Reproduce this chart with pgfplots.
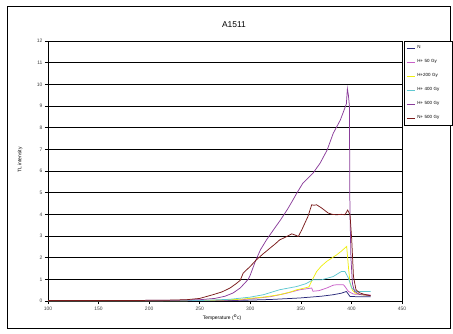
\documentclass[border=0pt]{standalone}
\usepackage{pgfplots}
\pgfplotsset{compat=1.18}
\usepackage{fontspec}
\setmainfont{Liberation Sans}
\definecolor{cN}{HTML}{2A2A7A}
\definecolor{cH50}{HTML}{C860C8}
\definecolor{cH200}{HTML}{EEEE10}
\definecolor{cH400}{HTML}{60C8D0}
\definecolor{cH500}{HTML}{8A3C9A}
\definecolor{cN500}{HTML}{7A1A1A}
\begin{document}
\begin{tikzpicture}[x=1bp,y=1bp]
\path (-48,-32) rectangle (405,301);
\draw[black, line width=0.8pt] (-41,-27) rectangle (402,295);
\begin{axis}[
  at={(0,0)}, anchor=south west,
  scale only axis, width=354bp, height=260bp,
  xmin=100, xmax=450, ymin=0, ymax=12,
  xtick={100,150,...,450}, ytick={0,1,...,12},
  ymajorgrids, major grid style={black, line width=0.7pt},
  axis line style={black, line width=0.5pt},
  tick style={black, line width=0.5pt},
  tick align=outside, major tick length=3bp,
  xtick pos=bottom, ytick pos=left,
  tick label style={font=\fontsize{5}{6}\selectfont, text=black!75},
  /pgf/number format/assume math mode=true,
  /pgf/number format/1000 sep={},
  xticklabel style={yshift=1bp},
  yticklabel style={xshift=1bp},
  legend style={at={(1.005,1)}, anchor=north west, draw=black, line width=0.5pt,
    font=\fontsize{4.5}{5}\selectfont, row sep=5.4bp, inner sep=2.5bp,
    legend cell align=left, text width=30bp},
  legend image code/.code={\draw[#1, line width=0.8pt] (0cm,0cm) -- (0.28cm,0cm);},
  every axis plot/.append style={line width=0.75pt},
]
\addplot[cN] coordinates {(100,0.01)(250,0.01)(290,0.03)(320,0.07)(349,0.14)(370,0.22)(382,0.29)(390,0.36)(395,0.44)(398.6,0.21)(405,0.2)(419,0.2)};
\addlegendentry{N}
\addplot[cH50] coordinates {(100,0.01)(250,0.02)(290,0.05)(320,0.2)(335,0.35)(349,0.52)(355,0.56)(360.7,0.6)(362,0.45)(368,0.48)(375.6,0.6)(382,0.73)(385.4,0.75)(392,0.75)(393.6,0.67)(397,0.44)(402,0.32)(410,0.3)(419,0.28)};
\addlegendentry{H+ 50 Gy}
\addplot[cH200] coordinates {(100,0.01)(200,0.01)(250,0.02)(280,0.06)(290,0.08)(313,0.18)(329,0.29)(340,0.42)(346,0.52)(352,0.58)(358,0.65)(361,0.95)(365.6,1.36)(370,1.6)(375.6,1.83)(385.4,2.13)(390,2.3)(395.3,2.52)(397,1.59)(398.6,0.83)(401,0.5)(403.5,0.37)(410,0.29)(419,0.25)};
\addlegendentry{H+200 Gy}
\addplot[cH400] coordinates {(100,0.01)(200,0.01)(250,0.02)(280,0.08)(300,0.18)(313,0.29)(329,0.52)(346,0.67)(355,0.8)(362,0.98)(370.6,0.98)(382,1.13)(390,1.36)(393.6,1.36)(397,1.06)(400.3,0.6)(405,0.44)(416.7,0.44)(419,0.44)};
\addlegendentry{H+ 400 Gy}
\addplot[cH500] coordinates {(100,0.02)(150,0.02)(200,0.03)(230,0.04)(250,0.06)(265,0.12)(275,0.22)(283,0.37)(290,0.6)(295,0.85)(298,1.0)(300,1.2)(305,1.83)(310,2.36)(316,2.82)(323,3.29)(330,3.75)(337,4.25)(342,4.65)(346,4.98)(352,5.44)(362,5.9)(369,6.36)(376,6.97)(382,7.74)(389,8.35)(394,8.97)(395,9.1)(396,9.8)(397,9.5)(398,9.0)(398.5,4.2)(399.5,2.0)(401,0.8)(403,0.45)(408,0.3)(419,0.25)};
\addlegendentry{H+ 500 Gy}
\addplot[cN500] coordinates {(100,0.02)(150,0.02)(200,0.03)(220,0.04)(237,0.06)(250,0.12)(263,0.29)(272,0.42)(280,0.6)(286,0.8)(290,0.95)(293,1.29)(300,1.6)(306,1.9)(312,2.15)(319.5,2.44)(325,2.65)(329,2.82)(335,2.95)(341,3.1)(344,3.05)(347.5,2.98)(351,3.29)(354,3.6)(357,3.9)(360.7,4.44)(363,4.42)(365.6,4.44)(370.6,4.29)(377,4.06)(381,4.0)(385.4,3.98)(390,4.0)(393.6,3.98)(396.3,4.2)(398.6,3.98)(400.3,2.82)(402,1.13)(404.5,0.52)(408,0.38)(411.8,0.32)(419,0.24)};
\addlegendentry{N+ 500 Gy}
\end{axis}
\node[font=\fontsize{8.5}{10}\selectfont] at (186,276) {A1511};
\node[font=\fontsize{5}{6}\selectfont, rotate=90] at (-28,141) {TL intensity};
\node[font=\fontsize{5}{6}\selectfont] at (174,-17) {Temperature ($^{\mathrm{o}}$c)};
\end{tikzpicture}
\end{document}
